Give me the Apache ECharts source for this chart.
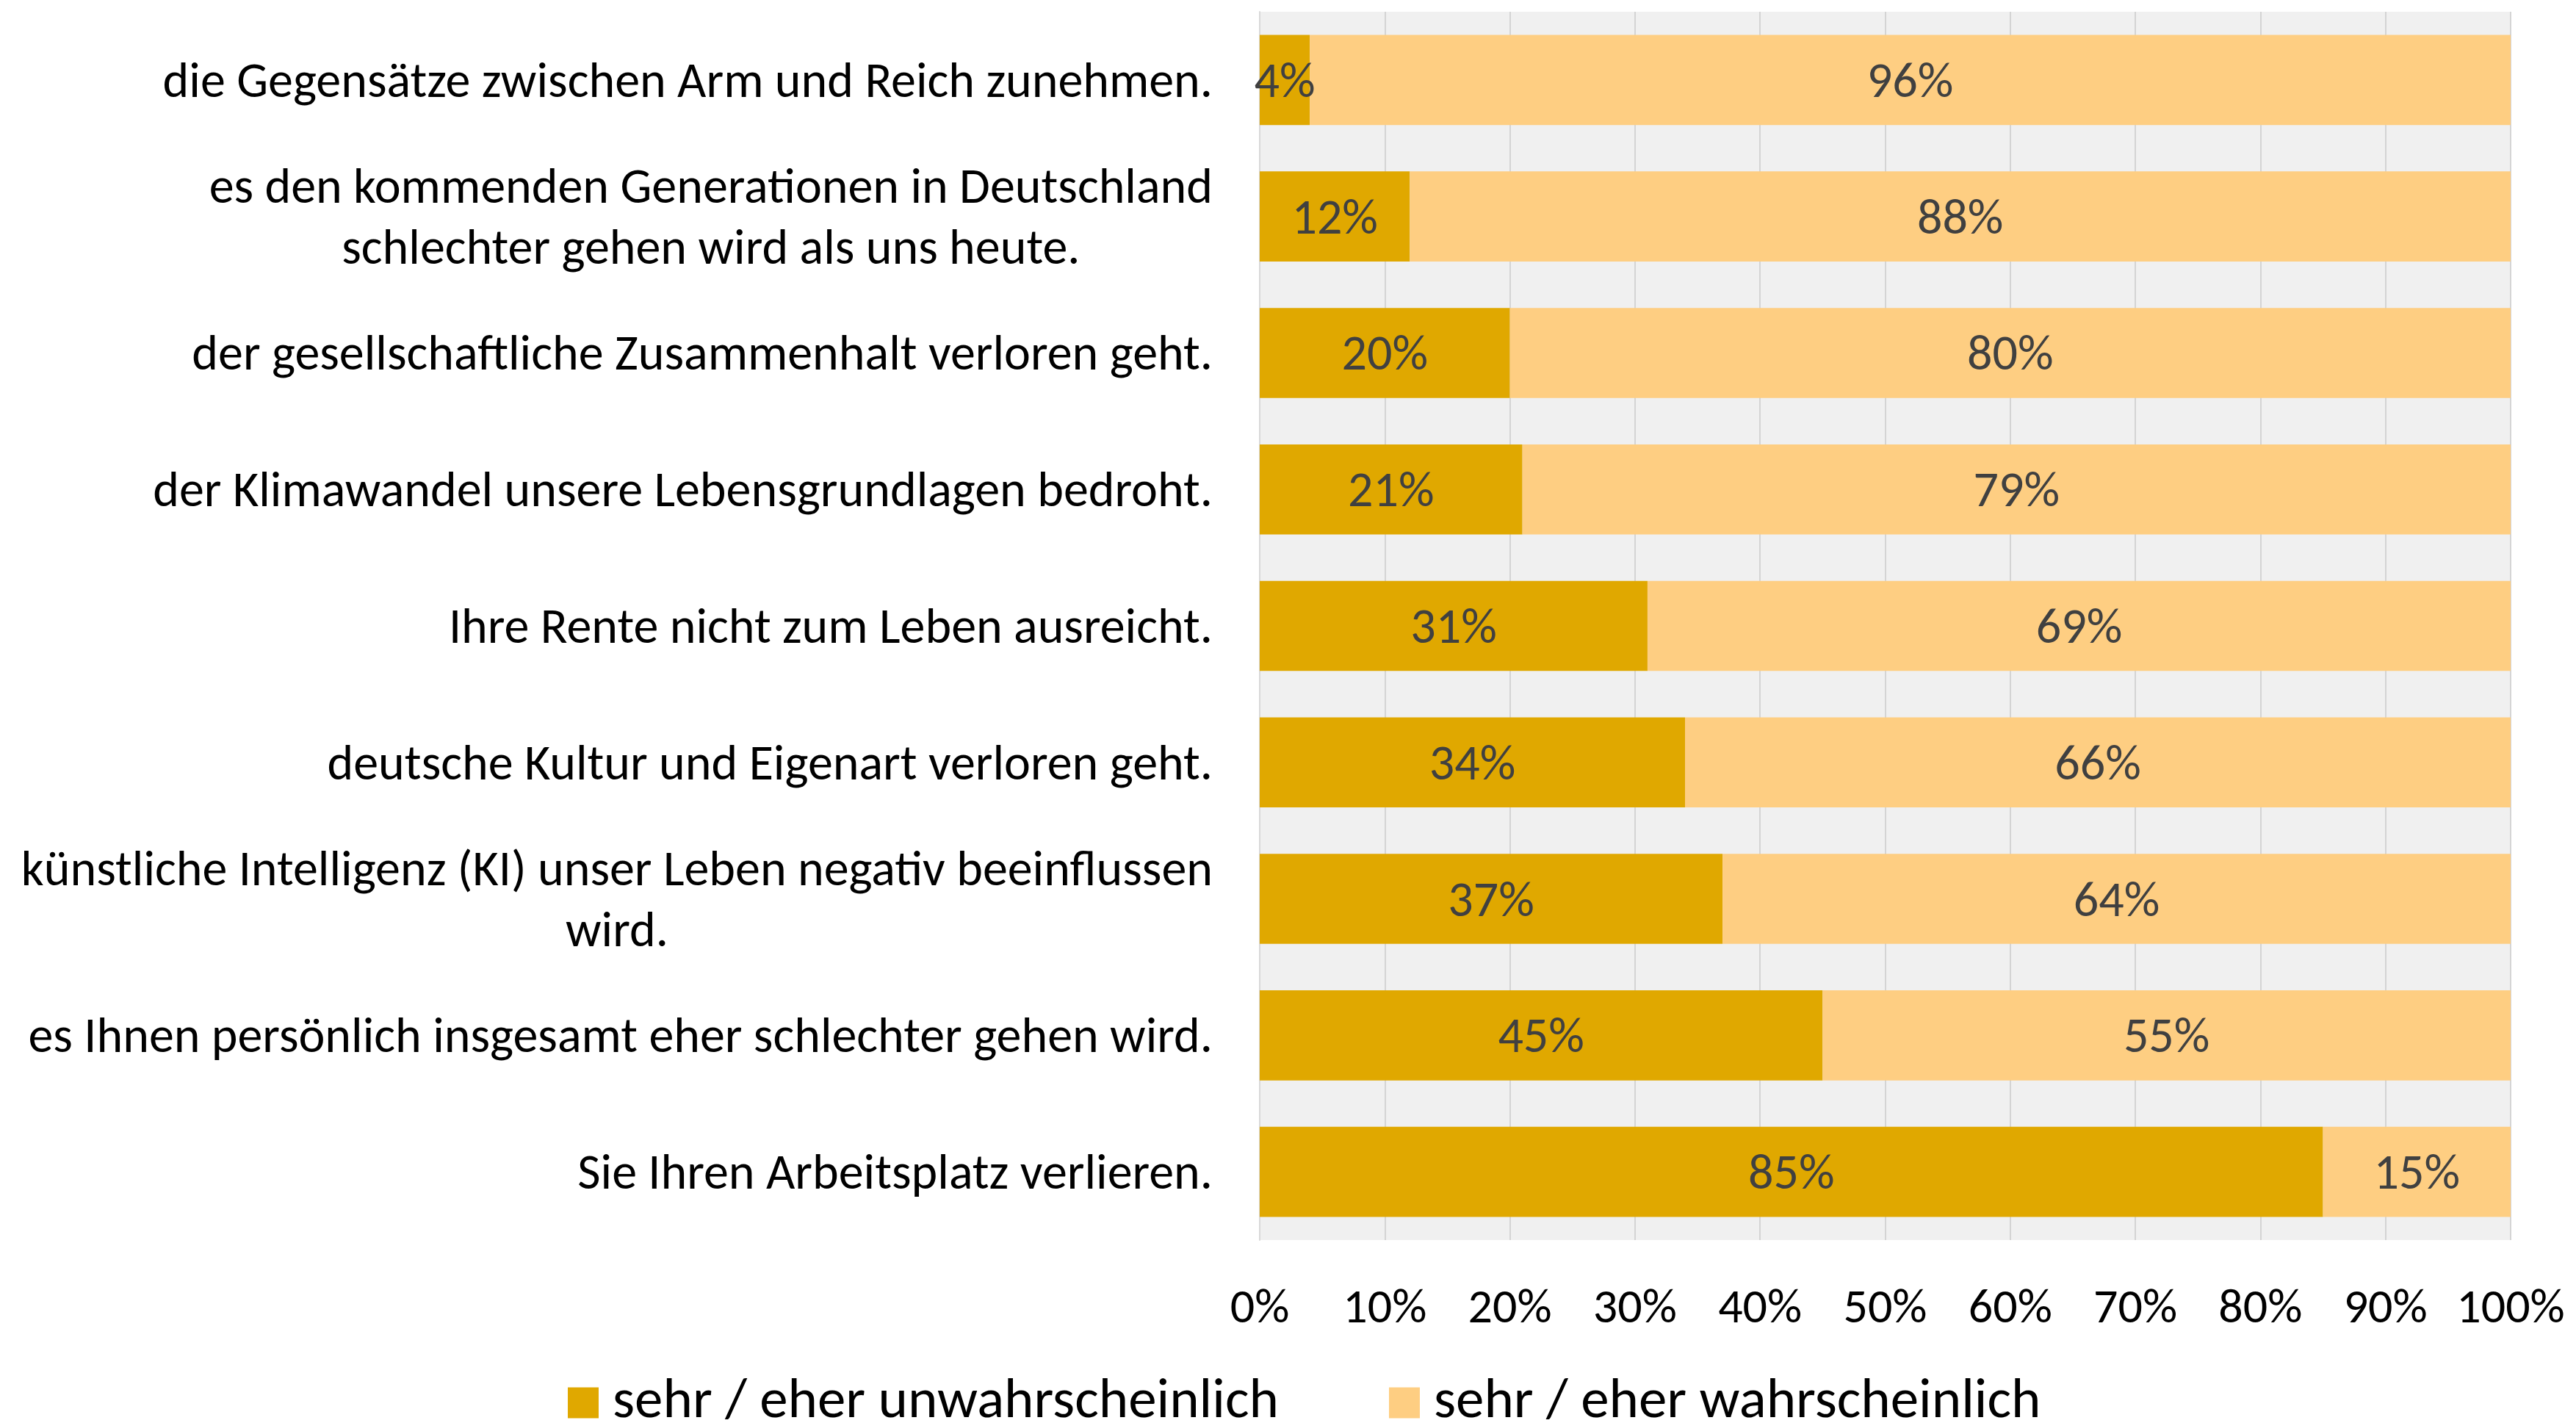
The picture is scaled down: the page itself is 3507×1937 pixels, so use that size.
<!DOCTYPE html>
<html>
<head>
<meta charset="utf-8">
<script src="https://cdn.jsdelivr.net/npm/echarts@6/dist/echarts.min.js"></script>
<style>
  html, body { margin: 0; padding: 0; background: #fff; }
  #chart { width: 3507px; height: 1937px; }
</style>
</head>
<body>
<div id="chart"></div>
<script>
// Kategorien (von oben nach unten)
const categories = [
  'die Gegensätze zwischen Arm und Reich zunehmen.',
  'es den kommenden Generationen in Deutschland\nschlechter gehen wird als uns heute.',
  'der gesellschaftliche Zusammenhalt verloren geht.',
  'der Klimawandel unsere Lebensgrundlagen bedroht.',
  'Ihre Rente nicht zum Leben ausreicht.',
  'deutsche Kultur und Eigenart verloren geht.',
  'künstliche Intelligenz (KI) unser Leben negativ beeinflussen\nwird.',
  'es Ihnen persönlich insgesamt eher schlechter gehen wird.',
  'Sie Ihren Arbeitsplatz verlieren.'
]
const unwahrscheinlich = [4, 12, 20, 21, 31, 34, 37, 45, 85]
const wahrscheinlich = [96, 88, 80, 79, 69, 66, 64, 55, 15]
const seriesNames = ['sehr / eher unwahrscheinlich', 'sehr / eher wahrscheinlich']
const xTicks = [0, 10, 20, 30, 40, 50, 60, 70, 80, 90, 100]

const FONT = 'Carlito, Lato, "Liberation Sans", sans-serif'

const myChart = echarts.init(document.getElementById('chart'))
const option = {
  backgroundColor: '#ffffff',
  animation: false,
  grid: {
    left: 1715,
    right: 89,
    top: 16,
    bottom: 249,
    show: true,
    backgroundColor: '#f0f0f0',
    borderWidth: 0
  },
  legend: {
    left: 768,
    top: 1866,
    itemWidth: 42,
    itemHeight: 42,
    itemGap: 150,
    icon: 'rect',
    data: seriesNames,
    textStyle: {
      fontFamily: FONT,
      fontSize: 77,
      color: '#000',
      padding: [4, 0, 0, 14]
    }
  },
  xAxis: {
    type: 'value',
    min: xTicks[0],
    max: xTicks[xTicks.length - 1],
    interval: 10,
    axisLine: { show: false },
    axisTick: { show: false },
    splitLine: { show: true, lineStyle: { color: '#d4d4d4', width: 2 } },
    axisLabel: {
      margin: 62,
      fontFamily: FONT,
      fontSize: 66,
      color: '#000',
      formatter: v => v + '%'
    }
  },
  yAxis: {
    type: 'category',
    inverse: true,
    data: categories,
    axisLine: { show: true, lineStyle: { color: '#d9d9d9', width: 2 } },
    axisTick: { show: false },
    axisLabel: {
      margin: 64,
      padding: [12, 0, 0, 0],
      formatter: function(value) {
        return value.split('\n').map(l => '{c|' + l + '}').join('\n')
      },
      rich: {
        c: {
          align: 'center',
          fontFamily: FONT,
          fontSize: 68,
          lineHeight: 83,
          color: '#000'
        }
      }
    }
  },
  series: [
    {
      name: seriesNames[0],
      type: 'bar',
      stack: 'total',
      barCategoryGap: '34%',
      data: unwahrscheinlich,
      itemStyle: { color: '#e0a800' },
      label: {
        show: true,
        position: 'inside',
        offset: [0, 6],
        formatter: '{c}%',
        fontFamily: FONT,
        fontSize: 68,
        color: '#404040'
      }
    },
    {
      name: seriesNames[1],
      type: 'bar',
      stack: 'total',
      data: wahrscheinlich,
      itemStyle: { color: '#fece82' },
      label: {
        show: true,
        position: 'inside',
        offset: [0, 6],
        formatter: '{c}%',
        fontFamily: FONT,
        fontSize: 68,
        color: '#404040'
      }
    }
  ]
}
myChart.setOption(option)
</script>
</body>
</html>
